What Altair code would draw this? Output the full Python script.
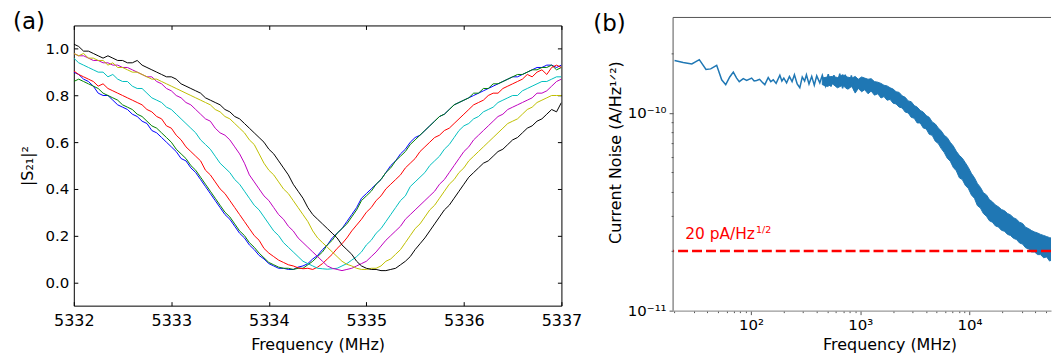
import altair as alt
import pandas as pd

# ------------------------------------------------------------------
# Panel (a): |S21|^2 vs frequency, seven traces
# ------------------------------------------------------------------
freq_a = [round(5332 + 0.05 * i, 2) for i in range(101)]

s21_b = [
    0.90, 0.89, 0.87, 0.86, 0.84, 0.81, 0.80, 0.80, 0.78, 0.76,
    0.75, 0.74, 0.72, 0.71, 0.69, 0.68, 0.65, 0.64, 0.62, 0.60,
    0.58, 0.56, 0.53, 0.52, 0.49, 0.47, 0.44, 0.41, 0.38, 0.35,
    0.32, 0.29, 0.27, 0.24, 0.21, 0.19, 0.16, 0.14, 0.115, 0.10,
    0.08, 0.07, 0.06, 0.06, 0.055, 0.055, 0.065, 0.07, 0.08, 0.10,
    0.115, 0.14, 0.16, 0.19, 0.21, 0.23, 0.26, 0.29, 0.32, 0.36,
    0.38, 0.40, 0.42, 0.44, 0.47, 0.50, 0.52, 0.55, 0.57, 0.60,
    0.62, 0.63, 0.65, 0.67, 0.69, 0.71, 0.72, 0.74, 0.76, 0.77,
    0.78, 0.79, 0.80, 0.81, 0.82, 0.83, 0.84, 0.85, 0.86, 0.87,
    0.88, 0.88, 0.89, 0.90, 0.91, 0.92, 0.92, 0.93, 0.93, 0.92, 0.93,
]
s21_g = [
    0.86, 0.87, 0.86, 0.85, 0.84, 0.83, 0.81, 0.80, 0.79, 0.78,
    0.76, 0.75, 0.74, 0.72, 0.71, 0.69, 0.67, 0.66, 0.64, 0.62,
    0.60, 0.57, 0.55, 0.53, 0.50, 0.48, 0.45, 0.42, 0.39, 0.36,
    0.33, 0.30, 0.28, 0.25, 0.22, 0.20, 0.17, 0.15, 0.125, 0.105,
    0.085, 0.075, 0.065, 0.06, 0.06, 0.055, 0.06, 0.06, 0.075, 0.09,
    0.11, 0.13, 0.16, 0.18, 0.21, 0.23, 0.25, 0.28, 0.31, 0.35,
    0.37, 0.39, 0.42, 0.44, 0.47, 0.49, 0.52, 0.54, 0.56, 0.59,
    0.61, 0.63, 0.65, 0.67, 0.69, 0.71, 0.72, 0.74, 0.76, 0.77,
    0.78, 0.79, 0.81, 0.81, 0.83, 0.83, 0.85, 0.85, 0.86, 0.87,
    0.88, 0.89, 0.89, 0.90, 0.91, 0.91, 0.92, 0.92, 0.93, 0.91, 0.92,
]
s21_r = [
    0.905, 0.89, 0.88, 0.87, 0.86, 0.84, 0.85, 0.83, 0.82, 0.81,
    0.80, 0.79, 0.78, 0.77, 0.76, 0.74, 0.73, 0.71, 0.70, 0.67,
    0.66, 0.63, 0.61, 0.58, 0.56, 0.54, 0.52, 0.48, 0.46, 0.43,
    0.40, 0.38, 0.35, 0.32, 0.29, 0.26, 0.23, 0.20, 0.18, 0.145,
    0.125, 0.11, 0.095, 0.085, 0.075, 0.07, 0.062, 0.058, 0.06, 0.055,
    0.065, 0.08, 0.10, 0.12, 0.145, 0.165, 0.19, 0.22, 0.245, 0.27,
    0.30, 0.32, 0.35, 0.37, 0.40, 0.42, 0.44, 0.46, 0.49, 0.51,
    0.53, 0.56, 0.58, 0.60, 0.62, 0.63, 0.65, 0.66, 0.68, 0.70,
    0.72, 0.74, 0.76, 0.77, 0.78, 0.80, 0.81, 0.81, 0.83, 0.84,
    0.85, 0.86, 0.87, 0.89, 0.88, 0.90, 0.91, 0.89, 0.92, 0.93, 0.92,
]
s21_c = [
    0.96, 0.94, 0.93, 0.92, 0.91, 0.90, 0.90, 0.88, 0.89, 0.87,
    0.86, 0.86, 0.84, 0.83, 0.83, 0.81, 0.79, 0.78, 0.77, 0.75,
    0.74, 0.72, 0.70, 0.68, 0.66, 0.64, 0.61, 0.59, 0.57, 0.54,
    0.51, 0.49, 0.47, 0.44, 0.42, 0.39, 0.36, 0.33, 0.31, 0.28,
    0.25, 0.22, 0.20, 0.17, 0.15, 0.13, 0.11, 0.09, 0.08, 0.07,
    0.06, 0.058, 0.056, 0.058, 0.06, 0.07, 0.08, 0.095, 0.11, 0.13,
    0.16, 0.18, 0.21, 0.23, 0.26, 0.29, 0.32, 0.35, 0.37, 0.41,
    0.43, 0.45, 0.47, 0.50, 0.52, 0.54, 0.57, 0.59, 0.62, 0.65,
    0.67, 0.68, 0.70, 0.71, 0.73, 0.74, 0.75, 0.77, 0.78, 0.79,
    0.80, 0.80, 0.82, 0.83, 0.84, 0.85, 0.86, 0.86, 0.87, 0.88, 0.88,
]
s21_m = [
    0.98, 0.97, 0.97, 0.96, 0.95, 0.95, 0.94, 0.94, 0.93, 0.93,
    0.92, 0.92, 0.91, 0.90, 0.89, 0.88, 0.88, 0.86, 0.85, 0.83,
    0.82, 0.80, 0.79, 0.77, 0.76, 0.74, 0.72, 0.70, 0.69, 0.66,
    0.64, 0.63, 0.61, 0.58, 0.55, 0.51, 0.46, 0.43, 0.40, 0.37,
    0.35, 0.32, 0.29, 0.27, 0.24, 0.22, 0.19, 0.17, 0.15, 0.13,
    0.11, 0.09, 0.07, 0.06, 0.055, 0.05, 0.055, 0.06, 0.07, 0.08,
    0.09, 0.11, 0.13, 0.155, 0.18, 0.20, 0.22, 0.24, 0.27, 0.29,
    0.31, 0.33, 0.35, 0.37, 0.39, 0.42, 0.44, 0.47, 0.50, 0.53,
    0.56, 0.58, 0.61, 0.63, 0.65, 0.67, 0.69, 0.71, 0.72, 0.74,
    0.75, 0.76, 0.77, 0.78, 0.79, 0.81, 0.81, 0.82, 0.84, 0.86, 0.87,
]
s21_y = [
    0.98, 0.97, 0.98, 0.96, 0.96, 0.95, 0.95, 0.93, 0.94, 0.92,
    0.92, 0.91, 0.90, 0.90, 0.89, 0.88, 0.87, 0.87, 0.86, 0.85,
    0.84, 0.83, 0.82, 0.81, 0.80, 0.79, 0.78, 0.77, 0.76, 0.74,
    0.73, 0.71, 0.70, 0.68, 0.66, 0.64, 0.61, 0.59, 0.55, 0.51,
    0.48, 0.46, 0.43, 0.40, 0.38, 0.35, 0.32, 0.29, 0.26, 0.22,
    0.19, 0.17, 0.15, 0.13, 0.11, 0.09, 0.077, 0.07, 0.06, 0.055,
    0.055, 0.06, 0.06, 0.07, 0.09, 0.10, 0.12, 0.14, 0.17, 0.20,
    0.23, 0.25, 0.28, 0.31, 0.33, 0.36, 0.39, 0.42, 0.44, 0.47,
    0.49, 0.52, 0.54, 0.56, 0.58, 0.60, 0.62, 0.64, 0.66, 0.68,
    0.69, 0.70, 0.72, 0.74, 0.75, 0.77, 0.78, 0.79, 0.80, 0.80, 0.80,
]
s21_k = [
    1.02, 1.01, 0.99, 0.99, 0.98, 0.97, 0.96, 0.97, 0.96, 0.95,
    0.95, 0.94, 0.94, 0.95, 0.93, 0.92, 0.91, 0.90, 0.89, 0.88,
    0.88, 0.87, 0.85, 0.84, 0.83, 0.82, 0.81, 0.79, 0.78, 0.77,
    0.76, 0.74, 0.73, 0.71, 0.70, 0.68, 0.66, 0.64, 0.62, 0.60,
    0.57, 0.55, 0.52, 0.49, 0.46, 0.42, 0.39, 0.36, 0.32, 0.29,
    0.27, 0.25, 0.23, 0.21, 0.19, 0.16, 0.14, 0.12, 0.09, 0.07,
    0.06, 0.055, 0.055, 0.05, 0.05, 0.055, 0.06, 0.075, 0.09, 0.11,
    0.14, 0.165, 0.19, 0.22, 0.25, 0.28, 0.31, 0.33, 0.36, 0.39,
    0.42, 0.45, 0.47, 0.49, 0.51, 0.52, 0.54, 0.56, 0.57, 0.59,
    0.61, 0.62, 0.64, 0.66, 0.67, 0.69, 0.70, 0.72, 0.74, 0.73, 0.77,
]

names_a = ["b", "g", "r", "c", "m", "y", "k"]
colors_a = ["#0000ff", "#008000", "#ff0000", "#00bfbf", "#bf00bf", "#bfbf00", "#000000"]
series_a = [s21_b, s21_g, s21_r, s21_c, s21_m, s21_y, s21_k]
xticks_a = [5332, 5333, 5334, 5335, 5336, 5337]
yticks_a = [0.0, 0.2, 0.4, 0.6, 0.8, 1.0]
panel_labels = ["(a)", "(b)"]

# ------------------------------------------------------------------
# Panel (b): current noise spectrum (A/Hz^1/2)
# ------------------------------------------------------------------
low_f = [20, 24, 28.8, 33.7, 38.8, 42.8, 48.6, 54, 58.8, 64, 69, 74, 78.2, 85.1,
         91.4, 101.5, 107, 112.7, 120, 127, 134, 144, 152, 160, 170, 184, 192,
         200, 212, 225, 238, 250, 265, 280, 295, 310, 322, 340, 360, 380, 400,
         427, 450, 480, 510, 540, 575, 610, 650, 690, 730, 780, 830, 880]
low_v = [1.84e-10, 1.80e-10, 1.77e-10, 1.86e-10, 1.66e-10, 1.67e-10, 1.74e-10,
         1.47e-10, 1.39e-10, 1.52e-10, 1.61e-10, 1.50e-10, 1.44e-10, 1.49e-10,
         1.46e-10, 1.50e-10, 1.45e-10, 1.46e-10, 1.48e-10, 1.43e-10, 1.39e-10,
         1.51e-10, 1.44e-10, 1.47e-10, 1.41e-10, 1.55e-10, 1.45e-10, 1.50e-10,
         1.42e-10, 1.53e-10, 1.44e-10, 1.56e-10, 1.40e-10, 1.34e-10, 1.52e-10,
         1.45e-10, 1.56e-10, 1.40e-10, 1.53e-10, 1.38e-10, 1.54e-10, 1.42e-10,
         1.55e-10, 1.37e-10, 1.57e-10, 1.36e-10, 1.55e-10, 1.35e-10, 1.58e-10,
         1.33e-10, 1.56e-10, 1.32e-10, 1.55e-10, 1.30e-10]

# dense part of the trace: lower / upper edge of the noisy band, in units of 1e-11
band_f = [450, 500, 560, 620, 690, 760, 840, 900, 960, 1030,
          1100, 1180, 1260, 1350, 1450, 1550, 1650, 1760, 1880, 2000,
          2130, 2270, 2420, 2580, 2750, 2930, 3120, 3320, 3540, 3770,
          4020, 4280, 4560, 4860, 5180, 5520, 5880, 6260, 6670, 7110,
          7570, 8070, 8600, 9160, 9760, 10400, 11100, 11800, 12600, 13400,
          14300, 15200, 16200, 17300, 18400, 19600, 20900, 22300, 23700, 25300,
          26900, 28700, 30600, 32600, 34700, 37000, 39400, 42000, 44700, 47700,
          50800, 54100, 57600, 60500, 62000]
band_lo_e11 = [13.9, 13.6, 14.0, 13.4, 13.8, 13.2, 13.6, 12.6, 13.3, 12.8,
               13.1, 12.5, 12.9, 12.3, 12.5, 11.9, 12.1, 11.6, 11.7, 11.2,
               11.1, 10.7, 10.6, 10.1, 10.0, 9.5, 9.4, 8.9, 8.9, 8.4,
               8.3, 7.8, 7.7, 7.2, 7.0, 6.6, 6.3, 5.9, 5.7, 5.3,
               5.1, 4.7, 4.6, 4.3, 4.15, 3.85, 3.7, 3.4, 3.3, 3.1,
               3.0, 2.85, 2.8, 2.68, 2.65, 2.55, 2.52, 2.43, 2.4, 2.32,
               2.29, 2.2, 2.17, 2.08, 2.05, 1.98, 1.98, 1.92, 1.92, 1.85,
               1.87, 1.78, 1.82, 1.72, 1.85]
band_hi_e11 = [15.0, 15.2, 15.3, 15.1, 15.6, 15.2, 15.0, 15.3, 14.8, 15.2,
               15.0, 14.8, 14.9, 14.4, 14.3, 14.1, 13.8, 13.7, 13.4, 13.2,
               12.8, 12.7, 12.2, 12.0, 11.5, 11.4, 10.9, 10.7, 10.3, 10.1,
               9.7, 9.5, 9.0, 8.8, 8.4, 8.1, 7.7, 7.5, 7.1, 6.8,
               6.4, 6.1, 5.9, 5.6, 5.3, 4.95, 4.7, 4.4, 4.2, 3.95,
               3.85, 3.65, 3.55, 3.42, 3.35, 3.25, 3.2, 3.1, 3.05, 2.95,
               2.9, 2.8, 2.76, 2.64, 2.6, 2.54, 2.5, 2.47, 2.43, 2.4,
               2.37, 2.34, 2.32, 2.3, 2.28]

ref_level = [2e-11]
ann_f = [25]
ann_v = [2.31e-11]
ann_text = ["20 pA/Hz"]
ann_sup = ["1/2"]

xticks_b = [20, 30, 40, 50, 60, 70, 80, 90, 100, 200, 300, 400, 500, 600, 700,
            800, 900, 1000, 2000, 3000, 4000, 5000, 6000, 7000, 8000, 9000,
            10000, 20000, 30000, 40000, 50000]
yticks_b = [1e-11, 2e-11, 3e-11, 4e-11, 5e-11, 6e-11, 7e-11, 8e-11, 9e-11,
            1e-10, 2e-10]

xlim_b = [19.4, 55700]
ylim_b = [1e-11, 2.77e-10]
frame_top_b = 3.04e-10

FONT = "DejaVu Sans"

# ------------------------------------------------------------------
# Build panel (a)
# ------------------------------------------------------------------
rows = []
for name, vals in zip(names_a, series_a):
    for f, v in zip(freq_a, vals):
        rows.append({"freq": f, "s21": v, "series": name})
df_a = pd.DataFrame(rows)

xs_a = alt.Scale(domain=[5332, 5337], nice=False, zero=False)
ys_a = alt.Scale(domain=[-0.1, 1.1], nice=False, zero=False)

common_a = dict(grid=False, domain=False, tickColor="black", tickSize=4, offset=-4,
                labelColor="black", labelFont=FONT, titleFont=FONT, titleColor="black",
                titleFontWeight="normal", labelFlush=False, labelOverlap=False,
                minExtent=0)

lines_a = alt.Chart(df_a).mark_line(strokeWidth=1, clip=True).encode(
    x=alt.X("freq:Q", scale=xs_a,
            axis=alt.Axis(orient="bottom", values=xticks_a, format="d",
                          title="Frequency (MHz)", labelFontSize=16, titleFontSize=16,
                          labelPadding=7, titlePadding=8, **common_a)),
    y=alt.Y("s21:Q", scale=ys_a,
            axis=alt.Axis(orient="left", values=yticks_a, format=".1f",
                          title="|S₂₁|²", labelFontSize=15, titleFontSize=16,
                          labelPadding=5, titlePadding=10, **common_a)),
    color=alt.Color("series:N", scale=alt.Scale(domain=names_a, range=colors_a), legend=None),
)

axes_a = alt.Chart(df_a).mark_line(opacity=0).encode(
    x=alt.X("freq:Q", scale=xs_a,
            axis=alt.Axis(orient="top", values=xticks_a, labels=False, title=None,
                          maxExtent=0, **common_a)),
    y=alt.Y("s21:Q", scale=ys_a,
            axis=alt.Axis(orient="right", values=yticks_a, labels=False, title=None,
                          maxExtent=0, **common_a)),
    detail="series:N",
)

label_a = alt.Chart(pd.DataFrame({"t": [panel_labels[0]]})).mark_text(
    font=FONT, fontSize=23, color="black", align="left", baseline="top"
).encode(x=alt.value(-61), y=alt.value(-14), text="t:N")

chart_a = alt.layer(lines_a, axes_a, label_a).resolve_axis(
    x="independent", y="independent").properties(
    width=489, height=281,
    view=alt.ViewBackground(stroke="black", strokeWidth=1),
)

# ------------------------------------------------------------------
# Build panel (b)
# ------------------------------------------------------------------
df_low = pd.DataFrame({"f": low_f, "v": low_v})
df_band = pd.DataFrame({"f": band_f,
                        "lo": [v * 1e-11 for v in band_lo_e11],
                        "hi": [v * 1e-11 for v in band_hi_e11]})
df_ref = pd.DataFrame({"v": ref_level})
df_ann = pd.DataFrame({"f": ann_f, "v": ann_v, "t": ann_text, "s": ann_sup})
df_left = pd.DataFrame({"f": [xlim_b[0]], "v1": [ylim_b[0]], "v2": [frame_top_b]})
df_top = pd.DataFrame({"f1": [xlim_b[0]], "f2": [xlim_b[1]], "v": [frame_top_b]})

xs_b = alt.Scale(type="log", domain=xlim_b, nice=False)
ys_b = alt.Scale(type="log", domain=ylim_b, nice=False)

major_test = "abs(log(datum.value)/LN10 - round(log(datum.value)/LN10)) < 0.001"
x_lab = ("datum.value == 100 ? '10²' : datum.value == 1000 ? '10³' : "
         "datum.value == 10000 ? '10⁴' : ''")
y_lab = ("abs(log(datum.value)/LN10 + 10) < 0.001 ? '10⁻¹⁰' : "
         "abs(log(datum.value)/LN10 + 11) < 0.001 ? '10⁻¹¹' : ''")

common_b = dict(grid=False, tickColor="#555555", labelColor="black",
                labelFont=FONT, titleFont=FONT, titleColor="black", titleFontWeight="normal",
                labelFlush=False, labelOverlap=False,
                tickSize={"condition": {"test": major_test, "value": 4}, "value": 2})

band_b = alt.Chart(df_band).mark_area(color="#1f77b4", opacity=1, stroke="#1f77b4",
                                      strokeWidth=1, clip=True).encode(
    x=alt.X("f:Q", scale=xs_b,
            axis=alt.Axis(orient="bottom", values=xticks_b, labelExpr=x_lab,
                          domain=True, domainColor="#999999", domainWidth=1.5,
                          title="Frequency (MHz)", labelFontSize=15, titleFontSize=16,
                          labelPadding=3, titlePadding=4, titleX=217, **common_b)),
    y=alt.Y("lo:Q", scale=ys_b,
            axis=alt.Axis(orient="left", values=yticks_b, labelExpr=y_lab,
                          domain=False,
                          title="Current Noise (A/Hz¹ᐟ²)", labelFontSize=15, titleFontSize=16,
                          labelPadding=3, titlePadding=4, titleY=127, **common_b)),
    y2="hi:Q",
)

low_b = alt.Chart(df_low).mark_line(color="#1f77b4", strokeWidth=1.5, clip=True).encode(
    x=alt.X("f:Q", scale=xs_b, axis=None),
    y=alt.Y("v:Q", scale=ys_b, axis=None),
)

ref_b = alt.Chart(df_ref).mark_rule(color="#ff0000", strokeWidth=2.5, strokeDash=[10, 4]).encode(
    y=alt.Y("v:Q", scale=ys_b, axis=None),
)

ann_b = alt.Chart(df_ann).mark_text(color="#ff0000", font=FONT, fontSize=15.5, align="left",
                                    baseline="alphabetic").encode(
    x=alt.X("f:Q", scale=xs_b, axis=None),
    y=alt.Y("v:Q", scale=ys_b, axis=None),
    text="t:N",
)
sup_b = alt.Chart(df_ann).mark_text(color="#ff0000", font=FONT, fontSize=9.5, align="left",
                                    baseline="alphabetic", dx=71, dy=-6).encode(
    x=alt.X("f:Q", scale=xs_b, axis=None),
    y=alt.Y("v:Q", scale=ys_b, axis=None),
    text="s:N",
)

left_b = alt.Chart(df_left).mark_rule(color="#555555", strokeWidth=1).encode(
    x=alt.X("f:Q", scale=xs_b, axis=None),
    y=alt.Y("v1:Q", scale=ys_b, axis=None),
    y2="v2:Q",
)
top_b = alt.Chart(df_top).mark_rule(color="#555555", strokeWidth=1).encode(
    x=alt.X("f1:Q", scale=xs_b, axis=None),
    x2="f2:Q",
    y=alt.Y("v:Q", scale=ys_b, axis=None),
)

label_b = alt.Chart(pd.DataFrame({"t": [panel_labels[1]]})).mark_text(
    font=FONT, fontSize=23, color="black", align="left", baseline="top"
).encode(x=alt.value(-80), y=alt.value(-12), text="t:N")

chart_b = alt.layer(band_b, low_b, ref_b, ann_b, sup_b, left_b, top_b, label_b).resolve_axis(
    x="independent", y="independent").properties(
    width=379, height=286,
    view=alt.ViewBackground(strokeWidth=0),
)

chart = alt.hconcat(chart_a, chart_b, spacing=11).properties(
    padding={"left": 4, "top": 2, "right": 0, "bottom": 0},
    background="white",
).configure(font=FONT)

chart.save("out.html", embed_options={"renderer": "svg", "actions": False})
